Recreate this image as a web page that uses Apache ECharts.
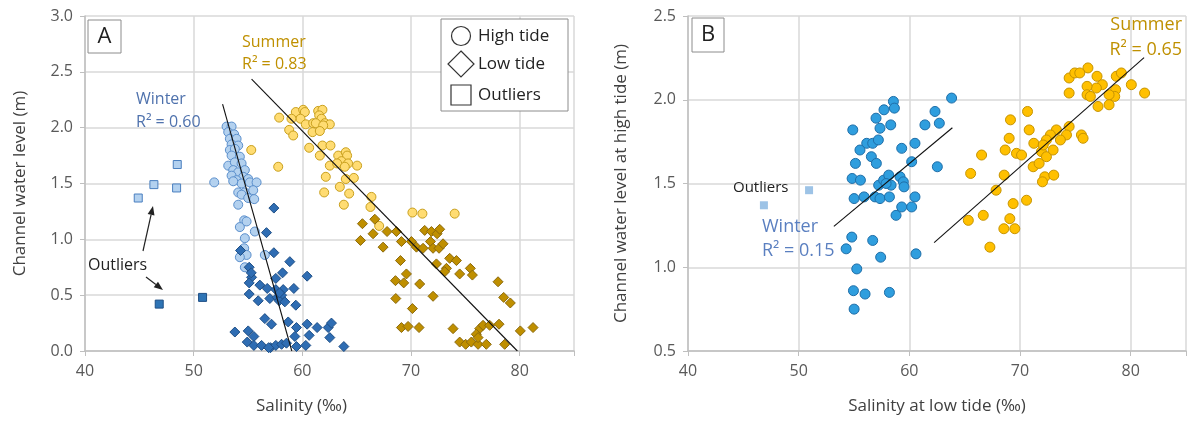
<!DOCTYPE html>
<html><head><meta charset="utf-8">
<script src="https://cdn.jsdelivr.net/npm/echarts@6/dist/echarts.min.js"></script>
<style>html,body{margin:0;padding:0;background:#fff}#c{width:1189px;height:421px}</style>
</head><body><div id="c"></div>
<script>
// ---------- DATA ----------
const xTicks = [40, 50, 60, 70, 80];
const yTicksA = [0, 0.5, 1, 1.5, 2, 2.5, 3];
const yTicksB = [0.5, 1, 1.5, 2, 2.5];

// Panel A: salinity vs channel water level
const winterHighA = [[53.03,2.01],[53.49,2.01],[53.18,1.96],[53.73,1.94],[53.33,1.90],[53.95,1.90],[53.49,1.85],[54.10,1.84],[53.33,1.80],[53.79,1.81],[53.49,1.75],[54.25,1.74],[53.18,1.66],[53.79,1.69],[54.41,1.68],[53.64,1.62],[54.10,1.60],[54.71,1.62],[53.49,1.57],[54.56,1.56],[53.95,1.53],[55.02,1.54],[54.41,1.50],[55.17,1.51],[55.79,1.51],[53.64,1.52],[51.89,1.51],[54.10,1.42],[54.71,1.42],[55.48,1.44],[54.41,1.40],[55.02,1.37],[55.57,1.36],[54.10,1.31],[54.65,1.17],[54.25,1.11],[54.87,1.16],[55.63,1.07],[54.71,1.01],[54.65,0.92],[54.41,0.86],[54.87,0.86],[56.55,0.86],[54.71,0.75],[54.25,0.84]];
const winterLowA = [[57.38,1.28],[56.70,1.06],[54.31,0.90],[57.38,0.88],[58.85,0.80],[55.11,0.75],[55.33,0.66],[58.18,0.70],[57.56,0.65],[60.44,0.67],[55.11,0.61],[56.09,0.59],[56.77,0.56],[57.56,0.55],[58.24,0.55],[59.22,0.56],[55.11,0.51],[57.01,0.47],[57.69,0.48],[58.09,0.50],[57.87,0.45],[58.39,0.44],[55.94,0.45],[59.40,0.41],[56.55,0.29],[57.16,0.24],[58.70,0.26],[59.46,0.21],[60.44,0.24],[61.36,0.21],[62.38,0.21],[62.68,0.25],[53.79,0.17],[55.02,0.18],[55.54,0.13],[59.31,0.13],[60.63,0.14],[62.53,0.12],[54.93,0.08],[55.54,0.05],[56.25,0.05],[57.07,0.03],[57.56,0.05],[58.09,0.06],[58.54,0.07],[59.46,0.04],[60.32,0.05],[63.82,0.04],[56.90,0.03],[55.30,0.70],[57.90,0.52]];
const summerHighA = [[57.87,2.09],[59.40,2.14],[60.08,2.16],[60.23,2.14],[59.83,2.08],[59.00,2.08],[58.79,1.98],[59.16,1.93],[60.32,2.03],[61.00,2.04],[61.46,2.15],[61.85,2.16],[61.55,2.11],[61.76,2.08],[61.24,2.04],[62.07,2.04],[62.53,2.03],[61.92,2.02],[60.94,1.96],[61.61,1.97],[60.63,1.82],[61.85,1.84],[62.59,1.84],[61.61,1.75],[63.30,1.75],[64.00,1.78],[64.12,1.75],[63.60,1.70],[64.21,1.68],[65.04,1.66],[62.53,1.66],[63.20,1.68],[63.91,1.65],[62.16,1.56],[64.00,1.54],[64.74,1.55],[63.45,1.47],[64.31,1.41],[62.01,1.42],[66.36,1.38],[63.82,1.31],[66.27,1.29],[67.07,1.12],[70.13,1.24],[71.05,1.23],[74.02,1.23],[57.78,1.65],[55.30,1.80]];
const summerLowA = [[65.53,1.14],[66.67,1.18],[65.35,0.99],[66.51,1.05],[67.80,1.07],[68.66,1.07],[67.43,0.93],[69.12,0.98],[70.04,0.98],[70.50,0.93],[71.26,1.08],[71.88,1.07],[72.40,1.05],[72.64,1.09],[71.11,0.92],[71.79,0.98],[72.03,0.92],[72.58,0.92],[72.95,0.96],[69.03,0.81],[69.58,0.69],[68.57,0.63],[69.33,0.61],[70.80,0.60],[72.34,0.78],[73.26,0.74],[73.56,0.83],[74.18,0.81],[74.48,0.69],[73.10,0.71],[75.46,0.74],[75.65,0.68],[78.01,0.62],[68.60,0.47],[72.03,0.49],[78.53,0.48],[79.14,0.43],[70.13,0.38],[69.12,0.21],[69.73,0.22],[70.74,0.21],[73.87,0.20],[74.48,0.08],[75.03,0.06],[75.55,0.08],[76.17,0.06],[76.32,0.20],[76.01,0.15],[76.63,0.23],[77.24,0.23],[78.10,0.24],[76.93,0.06],[76.17,0.12],[78.62,0.06],[80.06,0.18],[81.23,0.21]];
const outliersHighA = [[44.90,1.37],[46.34,1.49],[48.49,1.67],[48.43,1.46]];
const outliersLowA = [[46.83,0.42],[50.82,0.48]];
const trendWinterA = [[52.66,2.21],[59.03,0]];
const trendSummerA = [[55.33,2.435],[79.79,0]];

// Panel B: salinity at low tide vs water level at high tide
const winterB = [[54.89,1.82],[58.56,1.99],[58.65,1.95],[57.71,1.94],[56.99,1.89],[57.35,1.83],[58.32,1.85],[56.15,1.74],[56.69,1.74],[57.20,1.76],[55.54,1.70],[56.57,1.66],[55.13,1.62],[57.02,1.62],[59.31,1.71],[60.51,1.74],[60.21,1.63],[54.83,1.53],[55.58,1.52],[57.23,1.49],[57.68,1.52],[58.14,1.55],[58.35,1.49],[57.90,1.50],[59.16,1.54],[59.46,1.51],[59.52,1.48],[55.01,1.41],[55.91,1.42],[56.90,1.42],[57.35,1.41],[58.20,1.42],[60.51,1.42],[59.31,1.36],[60.21,1.36],[58.80,1.31],[61.41,1.85],[62.32,1.93],[62.71,1.86],[63.82,2.01],[62.53,1.60],[54.80,1.18],[54.29,1.11],[56.69,1.16],[57.41,1.06],[60.60,1.08],[55.25,0.99],[54.95,0.86],[56.00,0.84],[58.20,0.85],[55.01,0.75]];
const summerB = [[76.14,2.19],[74.44,2.13],[74.95,2.16],[75.40,2.16],[76.96,2.14],[77.44,2.09],[76.90,2.07],[76.06,2.08],[76.06,2.03],[76.36,2.02],[74.44,2.04],[78.70,2.14],[79.16,2.16],[80.06,2.09],[78.64,2.06],[78.56,2.02],[78.05,2.03],[81.26,2.04],[77.05,1.96],[78.05,1.97],[69.14,1.88],[70.68,1.93],[70.83,1.82],[74.44,1.84],[73.29,1.82],[72.75,1.79],[74.20,1.79],[75.55,1.79],[75.70,1.77],[69.02,1.77],[71.25,1.74],[72.39,1.76],[73.65,1.76],[66.53,1.67],[68.66,1.70],[69.68,1.68],[70.14,1.67],[71.94,1.69],[72.39,1.66],[72.99,1.70],[72.10,1.73],[71.19,1.60],[71.73,1.62],[65.54,1.56],[68.57,1.55],[72.24,1.54],[73.05,1.55],[72.03,1.51],[67.84,1.46],[70.59,1.40],[69.38,1.38],[65.33,1.28],[66.68,1.31],[69.08,1.29],[68.54,1.23],[69.53,1.23],[67.28,1.12]];
const outliersB = [[50.94,1.46],[46.86,1.37]];
const trendWinterB = [[53.18,1.244],[63.89,1.833]];
const trendSummerB = [[62.24,1.147],[81.21,2.251]];

// ---------- STYLES ----------
const FONT = '"Open Sans", sans-serif';
const gridColor = '#d9d9d9';
const axisColor = '#bfbfbf';
const labelColor = '#595959';
const titleColor = '#404040';

function xAxis(gridIndex, name, padding) {
  return {
    type: 'value', gridIndex, min: 40, max: 85, interval: 10,
    name, nameLocation: 'middle', nameGap: 47,
    nameTextStyle: { fontFamily: FONT, fontSize: 17, color: titleColor, padding: padding },
    axisLine: { show: true, lineStyle: { color: axisColor, width: 1.5 } },
    axisTick: { show: true, length: 5, lineStyle: { color: axisColor } },
    axisLabel: { margin: 12, fontFamily: FONT, fontSize: 16, color: labelColor,
      formatter: v => xTicks.includes(v) ? String(v) : '' },
    splitLine: { show: true, lineStyle: { color: gridColor, width: 1.5 } }
  };
}
function yAxis(gridIndex, name, ticks, gap) {
  return {
    type: 'value', gridIndex, min: ticks[0], max: ticks[ticks.length - 1], interval: 0.5,
    name, nameLocation: 'middle', nameGap: gap,
    nameTextStyle: { fontFamily: FONT, fontSize: 17, color: titleColor },
    axisLine: { show: true, lineStyle: { color: axisColor, width: 1.5 } },
    axisTick: { show: true, length: 5, lineStyle: { color: axisColor } },
    axisLabel: { margin: 12, fontFamily: FONT, fontSize: 16, color: labelColor,
      formatter: v => v.toFixed(1) },
    splitLine: { show: true, lineStyle: { color: gridColor, width: 1.5 } }
  };
}
function scatter(x, y, data, symbol, size, fill, stroke, z) {
  return { type: 'scatter', xAxisIndex: x, yAxisIndex: y, data, symbol, symbolSize: size, z: z || 2,
    itemStyle: { color: fill, borderColor: stroke, borderWidth: stroke ? 1 : 0, opacity: 1 }, silent: true };
}
function trend(x, y, data) {
  return { type: 'line', xAxisIndex: x, yAxisIndex: y, data, symbol: 'none', z: 5, silent: true,
    lineStyle: { color: '#111', width: 1.1 } };
}

// ---------- ANNOTATIONS ----------
function txt(text, x, y, size, color, align) {
  return { type: 'text', z: 20, style: { text, x, y, fill: color, font: size + 'px ' + FONT,
    align: align || 'left', verticalAlign: 'middle' } };
}
function box(x, y, w, h) {
  return { type: 'rect', z: 19, shape: { x, y, width: w, height: h },
    style: { fill: '#fff', stroke: '#8c8c8c', lineWidth: 1 } };
}
function arrow(x1, y1, x2, y2) {
  const a = Math.atan2(y2 - y1, x2 - x1), L = 9, W = 3.5;
  const bx = x2 - L * Math.cos(a), by = y2 - L * Math.sin(a);
  const px = -Math.sin(a) * W, py = Math.cos(a) * W;
  return [
    { type: 'line', z: 20, shape: { x1, y1, x2: bx, y2: by }, style: { stroke: '#222', lineWidth: 1.2 } },
    { type: 'polygon', z: 20, shape: { points: [[x2, y2], [bx + px, by + py], [bx - px, by - py]] }, style: { fill: '#222' } }
  ];
}
const winterTextA = '#4f72ad', summerText = '#bf9000', winterTextB = '#5a7fc0';
const graphics = [
  box(88, 20, 33, 33), txt('A', 104.5, 37, 22, '#222', 'center'),
  box(692, 18, 32, 34), txt('B', 708, 35, 22, '#222', 'center'),
  box(441, 19, 127, 92),
  { type: 'circle', z: 20, shape: { cx: 461, cy: 36, r: 9.5 }, style: { fill: '#fff', stroke: '#333', lineWidth: 1.2 } },
  { type: 'polygon', z: 20, shape: { points: [[461, 51], [474, 64], [461, 77], [448, 64]] }, style: { fill: '#fff', stroke: '#333', lineWidth: 1.2 } },
  { type: 'rect', z: 20, shape: { x: 451, y: 85, width: 20, height: 20 }, style: { fill: '#fff', stroke: '#333', lineWidth: 1.2 } },
  txt('High tide', 478, 36, 17, '#222'), txt('Low tide', 478, 64, 17, '#222'), txt('Outliers', 478, 95, 17, '#222'),
  txt('Summer', 242, 42, 16, summerText), txt('R² = 0.83', 242, 64, 16, summerText),
  txt('Winter', 136, 99, 16, winterTextA), txt('R² = 0.60', 136, 122, 16, winterTextA),
  txt('Outliers', 88, 265, 16, '#222'),
  ...arrow(143, 251, 153, 206), ...arrow(146, 277, 163, 290),
  txt('Outliers', 733, 188, 15, '#222'),
  txt('Winter', 762, 227, 18, winterTextB), txt('R² = 0.15', 762, 251, 18, winterTextB),
  txt('Summer', 1182, 25, 18, summerText, 'right'), txt('R² = 0.65', 1182, 50, 18, summerText, 'right')
];

const chart = echarts.init(document.getElementById('c'), null, { renderer: 'canvas' });
chart.setOption({
  animation: false,
  backgroundColor: '#fff',
  grid: [
    { left: 85, top: 16, width: 489, height: 335 },
    { left: 688, top: 16, width: 500, height: 335 }
  ],
  xAxis: [xAxis(0, 'Salinity (‰)', [0, 56, 0, 0]), xAxis(1, 'Salinity at low tide (‰)', [0, 0, 0, 0])],
  yAxis: [yAxis(0, 'Channel water level (m)', yTicksA, 56), yAxis(1, 'Channel water level at high tide (m)', yTicksB, 58)],
  series: [
    scatter(0, 0, winterHighA, 'circle', 9, '#b3d1ef', '#5b8fcc', 3),
    scatter(0, 0, summerHighA, 'circle', 9, '#ffdc72', '#c9a01e', 3),
    scatter(0, 0, winterLowA, 'diamond', 10, '#2f6db3', '#1f4f86', 4),
    scatter(0, 0, summerLowA, 'diamond', 10, '#bf8f00', '#8c6a0c', 4),
    scatter(0, 0, outliersHighA, 'rect', 8, '#b3d1ef', '#4a7fbf', 4),
    scatter(0, 0, outliersLowA, 'rect', 8, '#2e74b5', '#1f4f86', 4),
    trend(0, 0, trendWinterA), trend(0, 0, trendSummerA),
    scatter(1, 1, winterB, 'circle', 10, '#2f9ede', '#1f6ea8', 3),
    scatter(1, 1, summerB, 'circle', 10, '#ffc000', '#c79400', 3),
    scatter(1, 1, outliersB, 'rect', 8, '#9dc3e6', null, 4),
    trend(1, 1, trendWinterB), trend(1, 1, trendSummerB)
  ],
  graphic: graphics
});
</script>
</body></html>
